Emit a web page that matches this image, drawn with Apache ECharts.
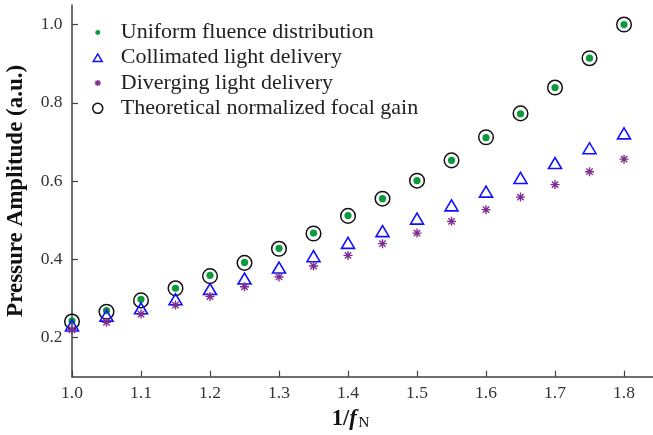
<!DOCTYPE html>
<html>
<head>
<meta charset="utf-8">
<script src="https://cdn.jsdelivr.net/npm/echarts@6/dist/echarts.min.js"></script>
<style>html,body{margin:0;padding:0;background:#fff;}#c{width:653px;height:435px;}</style>
</head>
<body>
<div id="c"></div>
<script>
const xValues = [1.0, 1.05, 1.1, 1.15, 1.2, 1.25, 1.3, 1.35, 1.4, 1.45, 1.5, 1.55, 1.6, 1.65, 1.7, 1.75, 1.8];
const uniform = [0.243, 0.269, 0.298, 0.326, 0.359, 0.392, 0.428, 0.467, 0.512, 0.555, 0.601, 0.653, 0.711, 0.772, 0.839, 0.914, 1.0];
const collimated = [0.231, 0.256, 0.275, 0.298, 0.324, 0.351, 0.379, 0.408, 0.442, 0.472, 0.504, 0.538, 0.573, 0.608, 0.646, 0.684, 0.722];
const diverging = [0.220, 0.239, 0.260, 0.283, 0.305, 0.330, 0.355, 0.383, 0.410, 0.440, 0.467, 0.497, 0.527, 0.559, 0.591, 0.624, 0.656];
const theoretical = [0.241, 0.266, 0.295, 0.326, 0.357, 0.391, 0.427, 0.466, 0.511, 0.555, 0.601, 0.653, 0.712, 0.773, 0.839, 0.914, 1.0];
const seriesNames = ['Uniform fluence distribution', 'Collimated light delivery', 'Diverging light delivery', 'Theoretical normalized focal gain'];
const xTicks = [1.0, 1.1, 1.2, 1.3, 1.4, 1.5, 1.6, 1.7, 1.8];
const yTicks = [0.2, 0.4, 0.6, 0.8, 1.0];

const FRAME = 'M-8,-8M8,8';
const SYM_DOT = 'path://' + FRAME + 'M-3.6,0A3.6,3.6,0,1,0,3.6,0A3.6,3.6,0,1,0,-3.6,0Z';
const SYM_CIRCLE = 'path://' + FRAME + 'M-7.3,0A7.3,7.3,0,1,0,7.3,0A7.3,7.3,0,1,0,-7.3,0Z';
const SYM_TRI = 'path://' + FRAME + 'M-6.5,5.5L6.5,5.5L0,-5.5Z';
const SYM_STAR = 'path://' + FRAME + 'M0,-4.5L0,4.5M-4.5,0L4.5,0M-3.2,-3.2L3.2,3.2M-3.2,3.2L3.2,-3.2';

const FONT = '"Liberation Serif", "Times New Roman", serif';
const pairs = arr => xValues.map((x, i) => [x, arr[i]]);

const chart = echarts.init(document.getElementById('c'), null, {renderer: 'canvas'});
chart.setOption({
  animation: false,
  backgroundColor: '#fff',
  grid: {left: 72, right: 0, top: 5, bottom: 58.3, containLabel: false, outerBoundsMode: 'none'},
  legend: {
    orient: 'vertical', left: 86.5, top: 16.4,
    itemWidth: 11, itemHeight: 11, itemGap: 3.3,
    textStyle: {fontFamily: FONT, fontSize: 22, lineHeight: 22, color: '#222', padding: [0, 0, 0, 12.5]},
    data: [
      {name: seriesNames[0], itemStyle: {borderWidth: 0}},
      {name: seriesNames[1], itemStyle: {borderWidth: 1.5}},
      {name: seriesNames[2], itemStyle: {borderWidth: 1.3}},
      {name: seriesNames[3], itemStyle: {borderWidth: 1.5}}
    ]
  },
  xAxis: {
    type: 'value', min: 1.0, max: 1.842,
    name: '{b|1/}{i|f}{s|N}', nameLocation: 'middle', nameGap: 26,
    nameTextStyle: {padding: [0, 24, 0, 0], rich: {
      b: {fontFamily: FONT, fontSize: 22.5, fontWeight: 'bold', color: '#111', lineHeight: 23, verticalAlign: 'bottom'},
      i: {fontFamily: FONT, fontSize: 22.5, fontWeight: 'bold', fontStyle: 'italic', color: '#111', lineHeight: 23, verticalAlign: 'bottom'},
      s: {fontFamily: FONT, fontSize: 15.5, color: '#111', lineHeight: 11, verticalAlign: 'bottom', padding: [0, 0, 0, 1.5]}
    }},
    splitLine: {show: false},
    axisLine: {show: true, onZero: false, lineStyle: {color: '#404040', width: 1.5}},
    axisTick: {show: true, inside: true, length: 6, customValues: xTicks, lineStyle: {color: '#404040', width: 1.2}},
    axisLabel: {customValues: xTicks, fontFamily: FONT, fontSize: 17.5, color: '#333', margin: 8,
      formatter: v => v.toFixed(1)}
  },
  yAxis: {
    type: 'value', min: 0.1, max: 1.05,
    name: 'Pressure Amplitude (a.u.)', nameLocation: 'middle', nameGap: 44,
    nameTextStyle: {fontFamily: FONT, fontSize: 23, fontWeight: 'bold', color: '#111'},
    splitLine: {show: false},
    axisLine: {show: true, onZero: false, lineStyle: {color: '#404040', width: 1.5}},
    axisTick: {show: true, inside: true, length: 6, customValues: yTicks, lineStyle: {color: '#404040', width: 1.2}},
    axisLabel: {customValues: yTicks, fontFamily: FONT, fontSize: 17.5, color: '#333', margin: 9.5,
      formatter: v => v.toFixed(1)}
  },
  series: [
    {name: seriesNames[3], type: 'scatter', data: pairs(theoretical), symbol: SYM_CIRCLE, symbolSize: 16, z: 2,
      itemStyle: {color: 'rgba(0,0,0,0)', borderColor: '#111', borderWidth: 1.5, opacity: 1}},
    {name: seriesNames[0], type: 'scatter', data: pairs(uniform), symbol: SYM_DOT, symbolSize: 16, z: 3,
      itemStyle: {color: '#0b9a3c', borderWidth: 0, opacity: 1}},
    {name: seriesNames[1], type: 'scatter', data: pairs(collimated), symbol: SYM_TRI, symbolSize: 16, z: 4,
      itemStyle: {color: 'rgba(0,0,0,0)', borderColor: '#1010ff', borderWidth: 1.6, opacity: 1}},
    {name: seriesNames[2], type: 'scatter', data: pairs(diverging), symbol: SYM_STAR, symbolSize: 16, z: 5,
      itemStyle: {color: 'rgba(0,0,0,0)', borderColor: '#7e2f8e', borderWidth: 1.4, opacity: 1}}
  ]
});
</script>
</body>
</html>
